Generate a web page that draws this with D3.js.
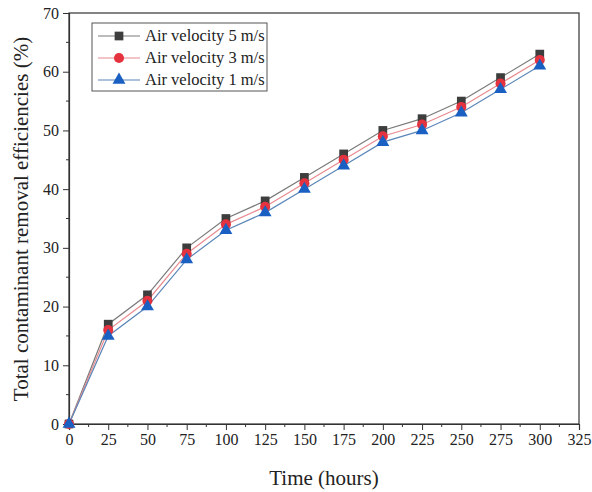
<!DOCTYPE html>
<html>
<head>
<meta charset="utf-8">
<script src="https://cdn.jsdelivr.net/npm/d3@7"></script>
<style>
body { margin: 0; background: #fff; }
text { font-family: "Liberation Serif", "Times New Roman", serif; }
</style>
</head>
<body>
<svg width="592" height="492"></svg>
<script>
var hours = [0, 25, 50, 75, 100, 125, 150, 175, 200, 225, 250, 275, 300];
var v5 = [0, 17, 22, 30, 35, 38, 42, 46, 50, 52, 55, 59, 63];
var v3 = [0, 16, 21, 29, 34, 37, 41, 45, 49, 51, 54, 58, 62];
var v1 = [0, 15, 20, 28, 33, 36, 40, 44, 48, 50, 53, 57, 61];
var seriesNames = ["Air velocity 5 m/s", "Air velocity 3 m/s", "Air velocity 1 m/s"];
var xTicks = d3.range(0, 326, 25);
var yTicks = d3.range(0, 71, 10);

var series = [
    {name: seriesNames[0], values: v5, line: "#7a7a7a", fill: "#3d3d3d", symbol: d3.symbolSquare, size: 76},
    {name: seriesNames[1], values: v3, line: "#e88a8f", fill: "#e5323f", symbol: d3.symbolCircle, size: 80},
    {name: seriesNames[2], values: v1, line: "#5b86b8", fill: "#1a5fc2", symbol: d3.symbolTriangle, size: 72}
];

var svg = d3.select("svg");
var mLeft = 69, mRight = 579, mTop = 13, mBottom = 424;

var x = d3.scaleLinear().domain([0, 325]).range([mLeft, mRight]);
var y = d3.scaleLinear().domain([0, 70]).range([mBottom, mTop]);

// frame
svg.append("rect")
    .attr("x", mLeft).attr("y", mTop)
    .attr("width", mRight - mLeft).attr("height", mBottom - mTop)
    .attr("fill", "none").attr("stroke", "#333").attr("stroke-width", 1.2);

// minor ticks
svg.append("g").selectAll("line")
    .data(d3.range(12.5, 325, 25))
    .enter().append("line")
    .attr("x1", function(d) { return x(d); })
    .attr("x2", function(d) { return x(d); })
    .attr("y1", mBottom).attr("y2", mBottom + 3)
    .attr("stroke", "#333");
svg.append("g").selectAll("line")
    .data(d3.range(5, 70, 10))
    .enter().append("line")
    .attr("y1", function(d) { return y(d); })
    .attr("y2", function(d) { return y(d); })
    .attr("x1", mLeft).attr("x2", mLeft - 3)
    .attr("stroke", "#333");

var xAxis = svg.append("g")
    .attr("transform", "translate(0," + mBottom + ")")
    .call(d3.axisBottom(x).tickValues(xTicks).tickSize(6).tickPadding(4));
var yAxis = svg.append("g")
    .attr("transform", "translate(" + mLeft + ",0)")
    .call(d3.axisLeft(y).tickValues(yTicks).tickSize(6).tickPadding(4));

[xAxis, yAxis].forEach(function(a) {
    a.select(".domain").attr("stroke", "#333").attr("stroke-width", 1.2);
    a.selectAll(".tick line").attr("stroke", "#333");
    a.selectAll("text").attr("font-size", 16).attr("fill", "#222")
        .attr("font-family", "Liberation Serif");
});

// axis titles
svg.append("text")
    .attr("x", 324).attr("y", 485)
    .attr("text-anchor", "middle").attr("font-size", 21).attr("fill", "#222")
    .text("Time (hours)");
svg.append("text")
    .attr("transform", "translate(28,219) rotate(-90)")
    .attr("text-anchor", "middle").attr("font-size", 21).attr("fill", "#222")
    .text("Total contaminant removal efficiencies (%)");

var line = d3.line()
    .x(function(d, i) { return x(hours[i]); })
    .y(function(d) { return y(d); });

series.forEach(function(s) {
    svg.append("path")
        .datum(s.values)
        .attr("d", line)
        .attr("fill", "none")
        .attr("stroke", s.line)
        .attr("stroke-width", 1.2);
});

series.forEach(function(s) {
    svg.append("g").selectAll("path")
        .data(s.values)
        .enter().append("path")
        .attr("d", d3.symbol().type(s.symbol).size(s.size))
        .attr("transform", function(d, i) { return "translate(" + x(hours[i]) + "," + y(d) + ")"; })
        .attr("fill", s.fill);
});

// legend
var legend = svg.append("g").attr("transform", "translate(92,23)");
legend.append("rect")
    .attr("width", 175).attr("height", 68)
    .attr("fill", "#fff").attr("stroke", "#555").attr("stroke-width", 1);
series.forEach(function(s, i) {
    var ly = 13 + i * 22;
    legend.append("line")
        .attr("x1", 6).attr("x2", 48).attr("y1", ly).attr("y2", ly)
        .attr("stroke", s.line).attr("stroke-width", 1.2);
    legend.append("path")
        .attr("d", d3.symbol().type(s.symbol).size(s.size))
        .attr("transform", "translate(27," + ly + ")")
        .attr("fill", s.fill);
    legend.append("text")
        .attr("x", 53).attr("y", ly + 5)
        .attr("font-size", 16.5).attr("fill", "#222")
        .text(s.name);
});
</script>
</body>
</html>
